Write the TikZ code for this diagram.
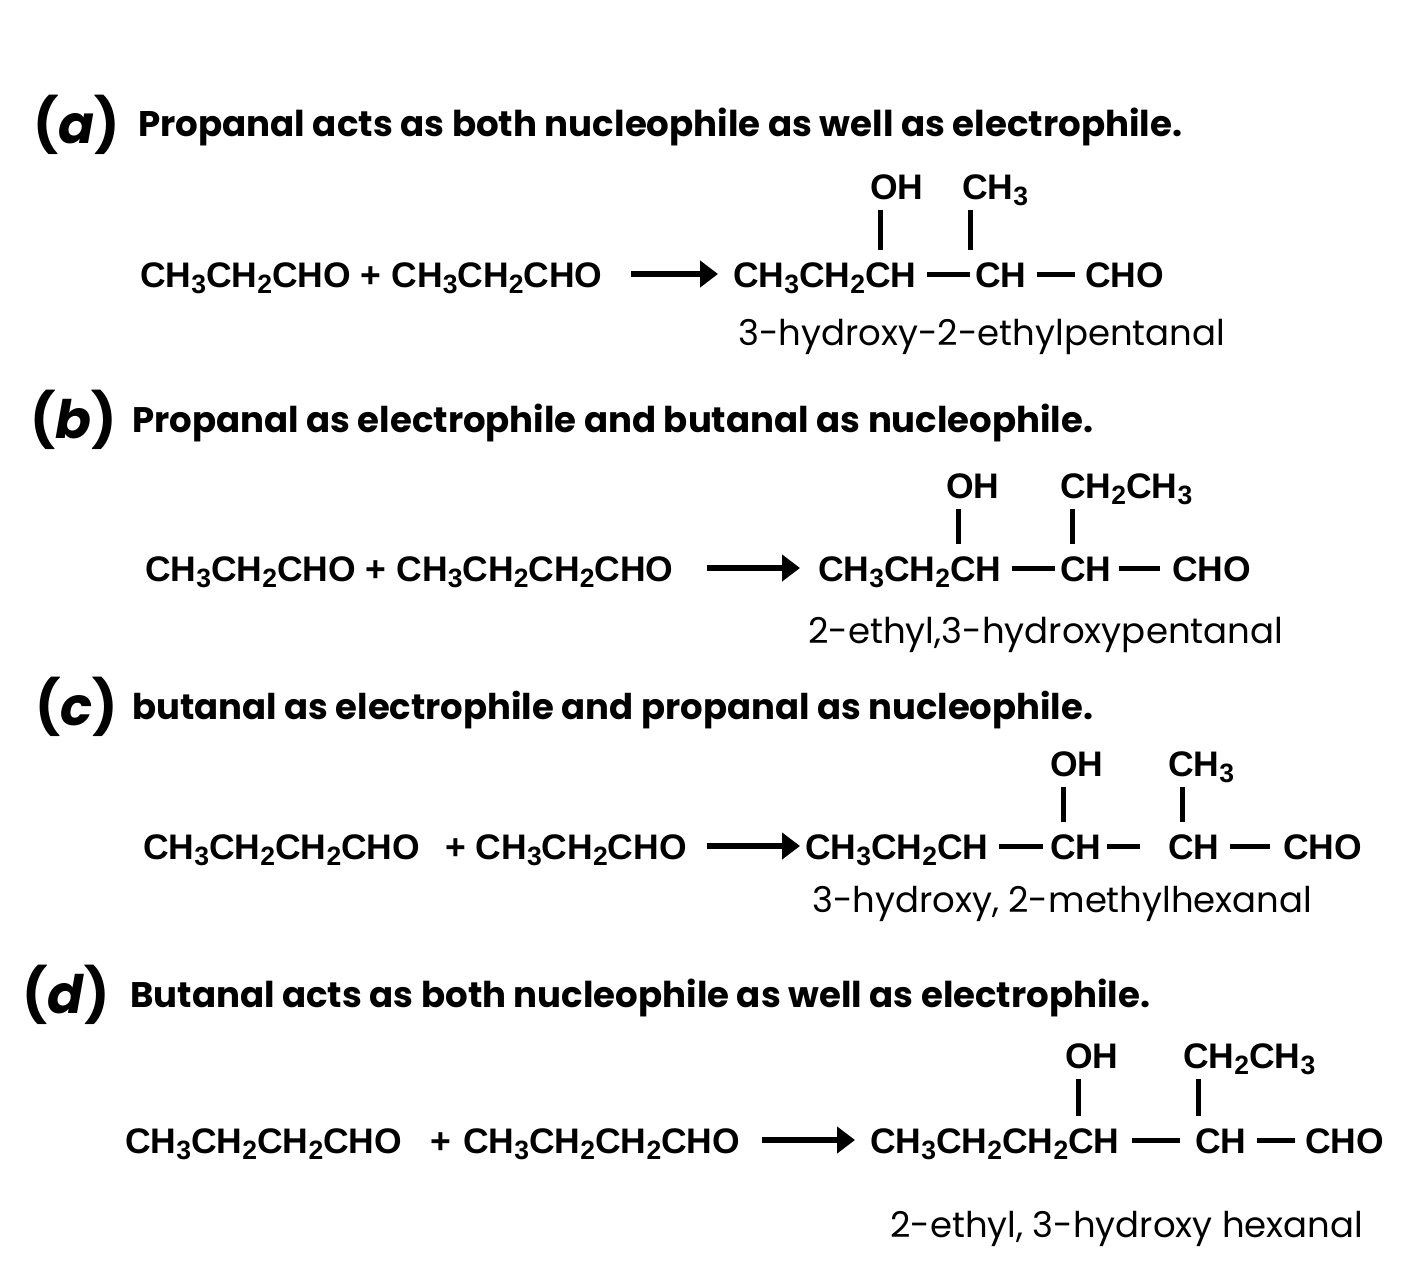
\documentclass[tikz,border=0pt]{standalone}
\usepackage{fontspec}
\usepackage{graphicx}
\setmainfont{Poppins}
\newfontfamily\chemf{Liberation Sans}
\usetikzlibrary{arrows.meta,calc}
\newcommand\chsub[1]{\raisebox{-6pt}{\fontsize{26.5}{26.5}\selectfont #1}}
\newcommand\fitto[2]{\resizebox{#1pt}{!}{#2}}
\begin{document}
\begin{tikzpicture}[x=1pt,y=-1pt,
  chem/.style={font=\chemf\bfseries\fontsize{35.5}{35.5}\selectfont, inner sep=0pt, anchor=base west},
  head/.style={font=\bfseries\fontsize{34}{34}\selectfont, inner sep=0pt, anchor=base west},
  lbl/.style={font=\bfseries\fontsize{53}{53}\selectfont, inner sep=0pt, anchor=base west},
  cname/.style={font=\fontsize{33}{33}\selectfont, inner sep=0pt, anchor=base west},
  bond/.style={line width=5pt},
  rxn/.style={line width=6.5pt, -{Triangle[length=18pt,width=26pt]}}]
\fill[white] (0,0) rectangle (1415,1287);
\useasboundingbox (0,0) rectangle (1415,1287);

% ---------------- (a)
\node[lbl] (la) at (33,143) {(\textit{a})};
\node[head] (ha) at (138,137) {\fitto{1044}{Propanal acts as both nucleophile as well as electrophile.}};
\node[chem] (ra) at (140,287) {CH\chsub{3}CH\chsub{2}CHO + CH\chsub{3}CH\chsub{2}CHO};
\node[chem] (pa1) at (733,287) {CH\chsub{3}CH\chsub{2}CH};
\node[chem] (pa2) at (975,287) {CH};
\node[chem] (pa3) at (1085,287) {CHO};
\node[chem] (ohA) at (870,199) {OH};
\node[chem] (meA) at (962,199) {CH\chsub{3}};
\node[cname] (na) at (738,345) {\fitto{487}{3-hydroxy-2-ethylpentanal}};
\draw[rxn] ($(ra.base east)+(28,-13)$) -- ($(pa1.base west)+(-15,-13)$);
\draw[bond] ($(pa1.base east)+(10,-13)$) -- ($(pa2.base west)+(-5,-13)$);
\draw[bond] ($(pa2.base east)+(10,-13)$) -- ($(pa3.base west)+(-10,-13)$);
\draw[bond] ($(ohA.base west)+(10,11)$) -- ($(ohA.base west |- pa1.base)+(10,-37)$);
\draw[bond] ($(meA.base west)+(8,11)$) -- ($(meA.base west |- pa2.base)+(8,-37)$);

% ---------------- (b)
\node[lbl] (lb) at (30,438) {(\textit{b})};
\node[head] (hb) at (132,432) {\fitto{961}{Propanal as electrophile and butanal as nucleophile.}};
\node[chem] (rb) at (145,581) {CH\chsub{3}CH\chsub{2}CHO + CH\chsub{3}CH\chsub{2}CH\chsub{2}CHO};
\node[chem] (pb1) at (818,581) {CH\chsub{3}CH\chsub{2}CH};
\node[chem] (pb2) at (1060,581) {CH};
\node[chem] (pb3) at (1172,581) {CHO};
\node[chem] (ohB) at (946,498) {OH};
\node[chem] (etB) at (1060,498) {CH\chsub{2}CH\chsub{3}};
\node[cname] (nb) at (808,643) {\fitto{475}{2-ethyl,3-hydroxypentanal}};
\draw[rxn] ($(rb.base east)+(33,-13)$) -- ($(pb1.base west)+(-18,-13)$);
\draw[bond] ($(pb1.base east)+(10,-13)$) -- ($(pb2.base west)+(-5,-13)$);
\draw[bond] ($(pb2.base east)+(7,-13)$) -- ($(pb3.base west)+(-12,-13)$);
\draw[bond] ($(ohB.base west)+(12,11)$) -- ($(ohB.base west |- pb1.base)+(12,-37)$);
\draw[bond] ($(etB.base west)+(12,11)$) -- ($(etB.base west |- pb2.base)+(12,-37)$);

% ---------------- (c)
\node[lbl] (lc) at (35,725) {(\textit{c})};
\node[head] (hc) at (132,719) {\fitto{961}{butanal as electrophile and propanal as nucleophile.}};
\node[chem] (rc1) at (143,859) {CH\chsub{3}CH\chsub{2}CH\chsub{2}CHO};
\node[chem] (rc2) at (445,859) {+ CH\chsub{3}CH\chsub{2}CHO};
\node[chem] (pc1) at (805,859) {CH\chsub{3}CH\chsub{2}CH};
\node[chem] (pc2) at (1050,859) {CH};
\node[chem] (pc3) at (1168,859) {CH};
\node[chem] (pc4) at (1283,859) {CHO};
\node[chem] (ohC) at (1050,776) {OH};
\node[chem] (meC) at (1168,776) {CH\chsub{3}};
\node[cname] (nc) at (812,912) {\fitto{500}{3-hydroxy, 2-methylhexanal}};
\draw[rxn] ($(rc2.base east)+(20,-13)$) -- ($(pc1.base west)+(-5,-13)$);
\draw[bond] ($(pc1.base east)+(10,-13)$) -- ($(pc2.base west)+(-7,-13)$);
\draw[bond] ($(pc2.base east)+(5,-13)$) -- ($(pc3.base west)+(-28,-13)$);
\draw[bond] ($(pc3.base east)+(10,-13)$) -- ($(pc4.base west)+(-13,-13)$);
\draw[bond] ($(ohC.base west)+(13,11)$) -- ($(ohC.base west |- pc2.base)+(13,-37)$);
\draw[bond] ($(meC.base west)+(14,11)$) -- ($(meC.base west |- pc3.base)+(14,-37)$);

% ---------------- (d)
\node[lbl] (ld) at (22,1013) {(\textit{d})};
\node[head] (hd) at (130,1007) {\fitto{1020}{Butanal acts as both nucleophile as well as electrophile.}};
\node[chem] (rd1) at (125,1153) {CH\chsub{3}CH\chsub{2}CH\chsub{2}CHO};
\node[chem] (rd2) at (430,1153) {+};
\node[chem] (rd3) at (463,1153) {CH\chsub{3}CH\chsub{2}CH\chsub{2}CHO};
\node[chem] (pd1) at (870,1153) {CH\chsub{3}CH\chsub{2}CH\chsub{2}CH};
\node[chem] (pd2) at (1195,1153) {CH};
\node[chem] (pd3) at (1305,1153) {CHO};
\node[chem] (ohD) at (1065,1068) {OH};
\node[chem] (etD) at (1183,1068) {CH\chsub{2}CH\chsub{3}};
\node[cname] (nd) at (890,1237) {\fitto{473}{2-ethyl, 3-hydroxy hexanal}};
\draw[rxn] ($(rd3.base east)+(22,-13)$) -- ($(pd1.base west)+(-15,-13)$);
\draw[bond] ($(pd1.base east)+(12,-13)$) -- ($(pd2.base west)+(-15,-13)$);
\draw[bond] ($(pd2.base east)+(10,-13)$) -- ($(pd3.base west)+(-10,-13)$);
\draw[bond] ($(ohD.base west)+(13,11)$) -- ($(ohD.base west |- pd1.base)+(13,-37)$);
\draw[bond] ($(etD.base west)+(15,11)$) -- ($(etD.base west |- pd2.base)+(15,-37)$);
\end{tikzpicture}
\end{document}
